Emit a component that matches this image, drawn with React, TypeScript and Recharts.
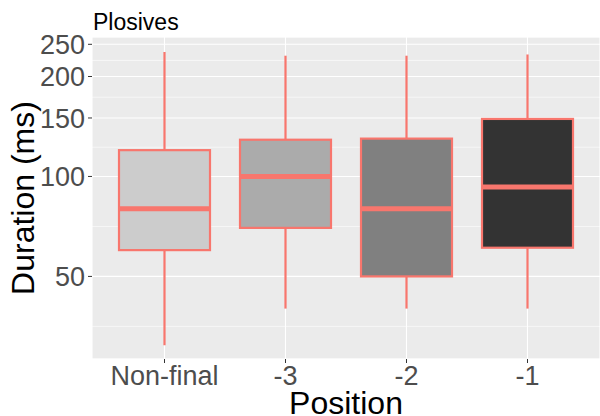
import React from "react";
import {
  ComposedChart,
  Bar,
  Scatter,
  XAxis,
  YAxis,
  CartesianGrid,
  Label,
} from "recharts";

const categories = ["Non-final", "-3", "-2", "-1"];
const whiskerLow = [31, 40, 40, 40];
const lowerQuartile = [60, 70, 50, 61];
const medians = [80, 100, 80, 93];
const upperQuartile = [120, 129, 130, 149];
const whiskerHigh = [237, 231, 231, 233];
const boxFills = ["#CCCCCC", "#ABABAB", "#808080", "#333333"];
const yTicks = [50, 100, 150, 200, 250];
const yMinorTicks = [35.36, 70.71, 122.47, 173.21, 223.61];

const data = categories.map((position, i) => ({
  position,
  low: whiskerLow[i],
  q1: lowerQuartile[i],
  median: medians[i],
  q3: upperQuartile[i],
  high: whiskerHigh[i],
}));

const RED = "#F8766D";
const BOX_WIDTH = 91;
const FONT = '"Liberation Sans", Arial, sans-serif';

const Whisker = (props: any) => {
  const { x, y, width, height } = props;
  const cx = x + width / 2;
  return <line x1={cx} x2={cx} y1={y} y2={y + height} stroke={RED} strokeWidth={2.2} />;
};

const Box = (props: any) => {
  const { x, y, width, height, index } = props;
  return (
    <rect
      x={x}
      y={y}
      width={width}
      height={height}
      fill={boxFills[index]}
      stroke={RED}
      strokeWidth={2.2}
    />
  );
};

const MedianLine = (props: any) => {
  const { cx, cy } = props;
  return (
    <line
      x1={cx - BOX_WIDTH / 2}
      x2={cx + BOX_WIDTH / 2}
      y1={cy}
      y2={cy}
      stroke={RED}
      strokeWidth={5}
    />
  );
};

export default function App() {
  return (
    <div
      style={{
        position: "absolute",
        left: 0,
        top: 0,
        width: 600,
        height: 416,
        background: "#fff",
        fontFamily: FONT,
        overflow: "hidden",
      }}
    >
      <div
        style={{
          position: "absolute",
          left: 93,
          top: 9,
          fontSize: 23,
          lineHeight: "26px",
          color: "#000",
        }}
      >
        Plosives
      </div>
      <ComposedChart
        width={600}
        height={416}
        data={data}
        margin={{ top: 37, right: 0, bottom: 0, left: 0 }}
        barSize={BOX_WIDTH}
        barGap={-BOX_WIDTH}
      >
        <CartesianGrid
          yAxisId="minor"
          vertical={false}
          stroke="#FFFFFF"
          strokeWidth={0.6}
          fill="#EBEBEB"
          strokeDasharray=""
        />
        <CartesianGrid stroke="#FFFFFF" strokeWidth={1.1} strokeDasharray="" />
        <XAxis
          dataKey="position"
          height={57}
          interval={0}
          padding={{ left: 12, right: 12 }}
          axisLine={false}
          tickSize={4}
          tickMargin={3}
          tickLine={{ stroke: "#333333" }}
          tick={{ fontSize: 27, fill: "#4D4D4D" }}
        >
          <Label
            content={() => (
              <text
                x={346}
                y={414}
                textAnchor="middle"
                fontSize={32}
                fill="#000"
              >
                Position
              </text>
            )}
          />
        </XAxis>
        <YAxis
          type="number"
          scale="log"
          domain={[28.2, 263]}
          allowDataOverflow
          ticks={yTicks}
          interval={0}
          width={92}
          axisLine={false}
          tickSize={4}
          tickMargin={3}
          tickLine={{ stroke: "#333333" }}
          tick={{ fontSize: 27, fill: "#4D4D4D" }}
        >
          <Label
            content={() => (
              <text
                x={34}
                y={198}
                transform="rotate(-90 34 198)"
                textAnchor="middle"
                fontSize={32}
                fill="#000"
              >
                Duration (ms)
              </text>
            )}
          />
        </YAxis>
        <YAxis
          yAxisId="minor"
          type="number"
          scale="log"
          domain={[28.2, 263]}
          allowDataOverflow
          ticks={yMinorTicks}
          interval={0}
          hide
        />
        <Bar
          dataKey={(d: any) => [d.low, d.high]}
          shape={Whisker}
          isAnimationActive={false}
        />
        <Bar
          dataKey={(d: any) => [d.q1, d.q3]}
          shape={Box}
          isAnimationActive={false}
        />
        <Scatter dataKey="median" shape={MedianLine} isAnimationActive={false} />
      </ComposedChart>
    </div>
  );
}
